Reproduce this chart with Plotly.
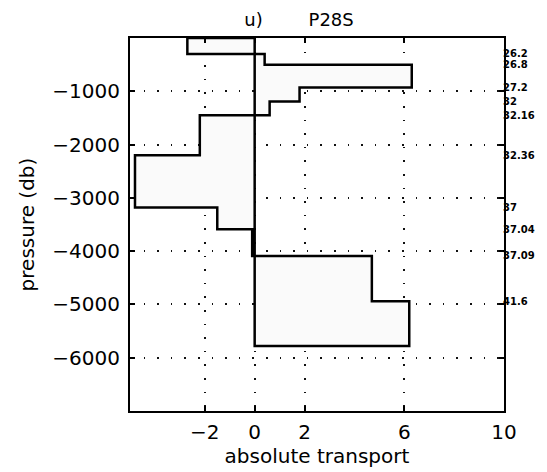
import plotly.graph_objects as go

# Layer boundaries (pressure, db) from the surface down to the bottom
layer_bounds = [0, -300, -500, -930, -1190, -1450, -2200, -3180, -3590, -4090, -4940, -5780]
# Absolute transport within each layer
layer_transport = [-2.7, 0.4, 6.3, 1.8, 0.6, -2.2, -4.8, -1.5, -0.1, 4.7, 6.2]
# Density labels at the interior layer boundaries
boundary_labels = ["26.2", "26.8", "27.2", "32", "32.16", "32.36", "37", "37.04", "37.09", "41.6"]

x_ticks = [-2, 0, 2, 6, 10]
y_ticks = [-6000, -5000, -4000, -3000, -2000, -1000]

# Closed stair outline: from the zero line, down each layer, back to zero
xs = [0]
ys = [layer_bounds[0]]
for i, t in enumerate(layer_transport):
    xs += [t, t]
    ys += [layer_bounds[i], layer_bounds[i + 1]]
xs += [0, 0]
ys += [layer_bounds[-1], layer_bounds[0]]

FONT = "DejaVu Sans"

fig = go.Figure()
fig.add_trace(go.Scatter(
    x=xs, y=ys, mode="lines",
    line=dict(color="black", width=2.5),
    fill="toself", fillcolor="#fafafa",
    hoverinfo="skip", showlegend=False,
))

axis_common = dict(
    showline=True, linecolor="black", linewidth=2, mirror="ticks",
    ticks="inside", ticklen=5, tickwidth=1.5, tickcolor="black",
    showgrid=True, gridcolor="#111111", gridwidth=1.6, griddash="1.6px,12px",
    zeroline=False,
    tickfont=dict(family=FONT, size=20, color="black"),
)

fig.update_xaxes(
    range=[-5, 10], tickvals=x_ticks, ticktext=[str(v).replace("-", "\u2212") for v in x_ticks],
    ticklabelstandoff=2,
    title=dict(text="absolute transport", font=dict(family=FONT, size=20, color="black"), standoff=2),
    **axis_common,
)
fig.update_yaxes(
    range=[-7000, 0], tickvals=y_ticks, ticklabelstandoff=4,
    title=dict(text="pressure (db)", font=dict(family=FONT, size=20, color="black"), standoff=12),
    **axis_common,
)

for lab, yb in zip(boundary_labels, layer_bounds[1:]):
    fig.add_annotation(
        x=1.0, xref="paper", y=yb, yref="y", text=lab, showarrow=False,
        xanchor="left", yanchor="middle", xshift=-3,
        font=dict(family=FONT, size=10, color="black", weight="bold"),
    )

fig.update_layout(
    width=547, height=472,
    margin=dict(l=130, r=43, t=38, b=57),
    paper_bgcolor="white", plot_bgcolor="white",
    title=dict(
        text="u)" + "\u00a0" * 8 + "P28S",
        x=0.452, xref="paper", xanchor="center",
        y=1 - 20 / 472, yref="container", yanchor="middle",
        font=dict(family=FONT, size=18, color="black"),
    ),
)

fig.write_html("out.html")
